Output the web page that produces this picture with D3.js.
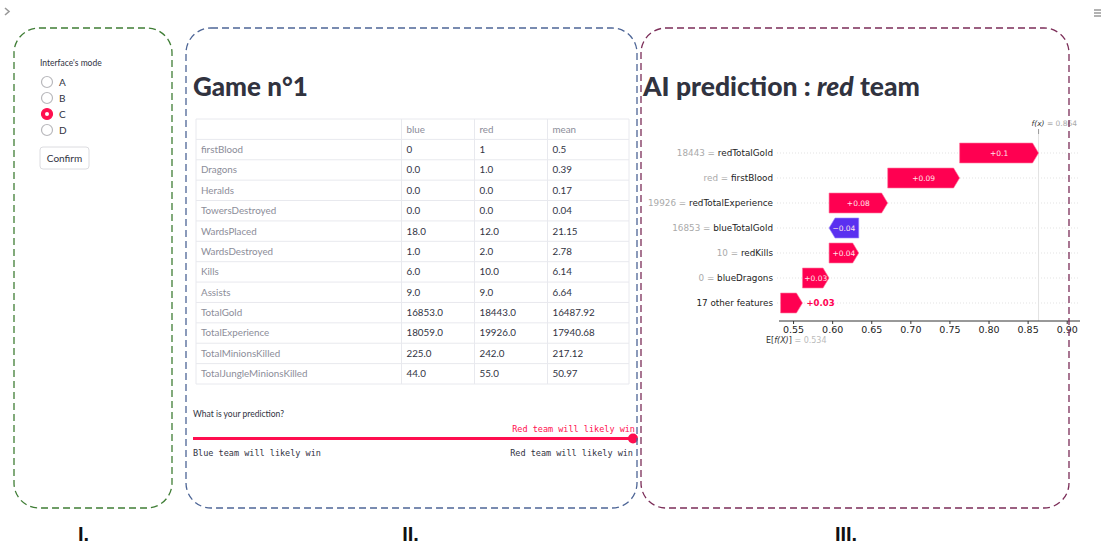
<!DOCTYPE html>
<html>
<head>
<meta charset="utf-8">
<script src="https://cdn.jsdelivr.net/npm/d3@7"></script>
<style>
  body { margin: 0; background: #fff; }
  svg { display: block; }
</style>
</head>
<body>
<div id="page"></div>
<script>
// ---- data ----
var modes = ["A", "B", "C", "D"];
var selectedMode = "C";

var tableColumns = ["", "blue", "red", "mean"];
var statNames = ["firstBlood", "Dragons", "Heralds", "TowersDestroyed", "WardsPlaced", "WardsDestroyed",
  "Kills", "Assists", "TotalGold", "TotalExperience", "TotalMinionsKilled", "TotalJungleMinionsKilled"];
var blueValues = ["0", "0.0", "0.0", "0.0", "18.0", "1.0", "6.0", "9.0", "16853.0", "18059.0", "225.0", "44.0"];
var redValues = ["1", "1.0", "0.0", "0.0", "12.0", "2.0", "10.0", "9.0", "18443.0", "19926.0", "242.0", "55.0"];
var meanValues = ["0.5", "0.39", "0.17", "0.04", "21.15", "2.78", "6.14", "6.64", "16487.92", "17940.68", "217.12", "50.97"];

var sliderValue = 1; // 0 = blue, 1 = red
var sliderLabels = ["Blue team will likely win", "Red team will likely win"];

var shapFeatureValues = ["18443", "red", "19926", "16853", "10", "0", ""];
var shapFeatureNames = ["redTotalGold", "firstBlood", "redTotalExperience", "blueTotalGold", "redKills", "blueDragons", "17 other features"];
var shapValues = [0.101, 0.092, 0.075, -0.038, 0.038, 0.034, 0.028];
var shapLabels = ["+0.1", "+0.09", "+0.08", "\u22120.04", "+0.04", "+0.03", "+0.03"];
var baseValue = 0.534;
var xTicks = [0.55, 0.60, 0.65, 0.70, 0.75, 0.80, 0.85, 0.90];

var panelLabels = ["I.", "II.", "III."];

// ---- setup ----
var W = 1117, H = 546;
var uiFont = "Lato, 'Noto Sans', sans-serif";
var monoFont = "'DejaVu Sans Mono', 'Liberation Mono', monospace";
var plotFont = "'DejaVu Sans', sans-serif";
var textColor = "#31333F";
var accent = "#ff0f4f";
var shapRed = "#ff0051";
var shapBlue = "#5a30f0";

var svg = d3.select("#page").append("svg")
  .attr("width", W)
  .attr("height", H);

// dashed panel boxes
var boxes = [
  {x: 14, y: 28, w: 158, h: 480, c: "#3f7d35"},
  {x: 186, y: 28, w: 451, h: 480, c: "#4d6596"},
  {x: 641, y: 28, w: 428, h: 480, c: "#7b2d58"}
];

// top corner icons
svg.append("path")
  .attr("d", "M5,8 L9,11.5 L5,15")
  .attr("fill", "none")
  .attr("stroke", "#999")
  .attr("stroke-width", 1.6);
svg.selectAll(".burger")
  .data([10, 13, 16])
  .enter().append("line")
  .attr("x1", 1094).attr("x2", 1101)
  .attr("y1", function(d) { return d; })
  .attr("y2", function(d) { return d; })
  .attr("stroke", "#888")
  .attr("stroke-width", 1.3);

// ===== Panel I : interface mode =====
svg.append("text")
  .attr("x", 40).attr("y", 66)
  .style("font-family", uiFont).style("font-size", "8.5px")
  .style("fill", textColor)
  .text("Interface's mode");

var radioY = d3.scalePoint().domain(modes).range([82, 130]);

var radio = svg.selectAll(".radio")
  .data(modes)
  .enter().append("g")
  .attr("class", "radio")
  .attr("transform", function(d) { return "translate(47," + radioY(d) + ")"; });

radio.append("circle")
  .attr("r", 5.5)
  .attr("fill", function(d) { return d == selectedMode ? accent : "#fff"; })
  .attr("stroke", function(d) { return d == selectedMode ? accent : "#b8b8bc"; })
  .attr("stroke-width", 1.2);
radio.filter(function(d) { return d == selectedMode; })
  .append("circle")
  .attr("r", 2)
  .attr("fill", "#fff");
radio.append("text")
  .attr("x", 12).attr("dy", "0.35em")
  .style("font-family", uiFont).style("font-size", "10px")
  .style("fill", textColor)
  .text(function(d) { return d; });

svg.append("rect")
  .attr("x", 40).attr("y", 147)
  .attr("width", 49).attr("height", 22)
  .attr("rx", 3)
  .attr("fill", "#fff")
  .attr("stroke", "#dcdce0");
svg.append("text")
  .attr("x", 64.5).attr("y", 161.5)
  .attr("text-anchor", "middle")
  .style("font-family", uiFont).style("font-size", "10px")
  .style("fill", textColor)
  .text("Confirm");

// ===== Panel II : game table =====
svg.append("text")
  .attr("x", 193).attr("y", 96)
  .style("font-family", uiFont).style("font-size", "26px").style("font-weight", 900)
  .style("fill", textColor)
  .text("Game n\u00b01");

var colEdges = [196, 401.5, 474.5, 547.5, 629];
var rowY = d3.scaleBand()
  .domain(d3.range(statNames.length + 1))
  .range([119, 384]);

var tableRows = [tableColumns].concat(statNames.map(function(name, i) {
  return [name, blueValues[i], redValues[i], meanValues[i]];
}));

var table = svg.append("g");

table.selectAll(".hline")
  .data(d3.range(tableRows.length + 1))
  .enter().append("line")
  .attr("x1", colEdges[0]).attr("x2", colEdges[4])
  .attr("y1", function(i) { return 119 + i * rowY.bandwidth(); })
  .attr("y2", function(i) { return 119 + i * rowY.bandwidth(); })
  .attr("stroke", "#e8e9ee");
table.selectAll(".vline")
  .data(colEdges)
  .enter().append("line")
  .attr("x1", function(d) { return d; })
  .attr("x2", function(d) { return d; })
  .attr("y1", 119).attr("y2", 384)
  .attr("stroke", "#e8e9ee");

var trow = table.selectAll(".trow")
  .data(tableRows)
  .enter().append("g")
  .attr("transform", function(d, i) { return "translate(0," + (rowY(i) + rowY.bandwidth() / 2) + ")"; });

trow.selectAll("text")
  .data(function(d, i) { return d.map(function(v, j) { return {v: v, j: j, header: i == 0}; }); })
  .enter().append("text")
  .attr("x", function(d) { return colEdges[d.j] + 5; })
  .attr("dy", "0.35em")
  .style("font-family", uiFont).style("font-size", "9.8px")
  .style("fill", function(d) { return (d.header || d.j == 0) ? "#8c8d99" : textColor; })
  .text(function(d) { return d.v; });

// slider
svg.append("text")
  .attr("x", 193).attr("y", 417)
  .style("font-family", uiFont).style("font-size", "8.5px")
  .style("fill", textColor)
  .text("What is your prediction?");

var sliderX = d3.scaleLinear().domain([0, 1]).range([193, 633]);

svg.append("line")
  .attr("x1", sliderX(0)).attr("x2", sliderX(1))
  .attr("y1", 438.5).attr("y2", 438.5)
  .attr("stroke", "#e3e4e8").attr("stroke-width", 3);
svg.append("line")
  .attr("x1", sliderX(0)).attr("x2", sliderX(sliderValue))
  .attr("y1", 438.5).attr("y2", 438.5)
  .attr("stroke", accent).attr("stroke-width", 3);
svg.append("circle")
  .attr("cx", sliderX(sliderValue)).attr("cy", 438.5)
  .attr("r", 5)
  .attr("fill", accent);
svg.append("text")
  .attr("x", sliderX(sliderValue) + 2).attr("y", 432)
  .attr("text-anchor", "end")
  .style("font-family", monoFont).style("font-size", "8.5px")
  .style("fill", accent)
  .text(sliderLabels[Math.round(sliderValue)]);
svg.append("text")
  .attr("x", sliderX(0)).attr("y", 456)
  .style("font-family", monoFont).style("font-size", "8.5px")
  .style("fill", textColor)
  .text(sliderLabels[0]);
svg.append("text")
  .attr("x", sliderX(1)).attr("y", 456)
  .attr("text-anchor", "end")
  .style("font-family", monoFont).style("font-size", "8.5px")
  .style("fill", textColor)
  .text(sliderLabels[1]);

// ===== Panel III : shap waterfall =====
var title3 = svg.append("text")
  .attr("x", 643).attr("y", 96)
  .style("font-family", uiFont).style("font-size", "26.5px").style("font-weight", 900)
  .style("fill", textColor);
title3.append("tspan").text("AI prediction : ");
title3.append("tspan").style("font-style", "italic").text("red");
title3.append("tspan").text(" team");

svg.append("defs").append("clipPath")
  .attr("id", "chartClip")
  .append("rect")
  .attr("x", 645).attr("y", 110).attr("width", 435).attr("height", 240);

var chart = svg.append("g").attr("clip-path", "url(#chartClip)");

var x = d3.scaleLinear().domain([0.532, 0.917]).range([779, 1080]);
var y = d3.scalePoint().domain(d3.range(shapValues.length)).range([153, 303]);
var barH = 20;
var axisY = 321;

// cumulative from the bottom row upward
var bars = [];
var cum = baseValue;
for (var i = shapValues.length - 1; i >= 0; i--) {
  bars[i] = {i: i, start: cum, end: cum + shapValues[i], v: shapValues[i], label: shapLabels[i]};
  cum += shapValues[i];
}
var fx = cum;

// dotted row guides
chart.selectAll(".guide")
  .data(bars)
  .enter().append("line")
  .attr("x1", 777).attr("x2", 1080)
  .attr("y1", function(d) { return y(d.i); })
  .attr("y2", function(d) { return y(d.i); })
  .attr("stroke", "#d0d0d0")
  .attr("stroke-width", 0.6)
  .attr("stroke-dasharray", "1,2");

// f(x) line and label
chart.append("line")
  .attr("x1", x(fx)).attr("x2", x(fx))
  .attr("y1", 129).attr("y2", axisY)
  .attr("stroke", "#e2e2e2");
chart.append("line")
  .attr("x1", x(fx)).attr("x2", x(fx))
  .attr("y1", 129).attr("y2", 134)
  .attr("stroke", "#999");
var fxText = chart.append("text")
  .attr("x", x(fx) - 7).attr("y", 126)
  .style("font-family", plotFont).style("font-size", "7.5px");
fxText.append("tspan").style("font-style", "italic").style("fill", "#333").text("f(x)");
fxText.append("tspan").style("fill", "#aaa").text(" = " + d3.format(".3f")(fx));

// bars
function barPath(d) {
  var yc = y(d.i), top = yc - barH / 2, bot = yc + barH / 2;
  var x0 = x(d.start), x1 = x(d.end);
  var tip = Math.min(6, Math.abs(x1 - x0) * 0.35);
  var dir = d.v >= 0 ? 1 : -1;
  return "M" + x0 + "," + top + "L" + (x1 - dir * tip) + "," + top + "L" + x1 + "," + yc +
    "L" + (x1 - dir * tip) + "," + bot + "L" + x0 + "," + bot + "Z";
}

chart.selectAll(".bar")
  .data(bars)
  .enter().append("path")
  .attr("d", barPath)
  .attr("fill", function(d) { return d.v >= 0 ? shapRed : shapBlue; })
  .attr("stroke", function(d) { return d.v >= 0 ? "#ff7aa0" : "#9a86ff"; })
  .attr("stroke-width", 0.6);

function narrow(d) { return Math.abs(x(d.end) - x(d.start)) < 25; }

chart.selectAll(".barLabel")
  .data(bars)
  .enter().append("text")
  .attr("x", function(d) { return narrow(d) ? x(d.end) + 4 : (x(d.start) + x(d.end)) / 2; })
  .attr("y", function(d) { return y(d.i); })
  .attr("dy", "0.35em")
  .attr("text-anchor", function(d) { return narrow(d) ? "start" : "middle"; })
  .style("font-family", plotFont)
  .style("font-size", function(d) { return narrow(d) ? "8.5px" : "7.5px"; })
  .style("font-weight", function(d) { return narrow(d) ? "bold" : "normal"; })
  .style("fill", function(d) { return narrow(d) ? shapRed : "#ffe3ea"; })
  .text(function(d) { return d.label; });

// feature labels
var featLabel = svg.selectAll(".feat")
  .data(bars)
  .enter().append("text")
  .attr("x", 773)
  .attr("y", function(d) { return y(d.i); })
  .attr("dy", "0.35em")
  .attr("text-anchor", "end")
  .style("font-family", plotFont).style("font-size", "8.8px");
featLabel.filter(function(d) { return shapFeatureValues[d.i] !== ""; })
  .append("tspan").style("fill", "#aaa")
  .text(function(d) { return shapFeatureValues[d.i] + " = "; });
featLabel.append("tspan").style("fill", "#222")
  .text(function(d) { return shapFeatureNames[d.i]; });

// x axis
var axis = chart.append("g")
  .attr("transform", "translate(0," + axisY + ")")
  .call(d3.axisBottom(x).tickValues(xTicks).tickFormat(d3.format(".2f")).tickSize(3).tickPadding(2));
axis.select(".domain").attr("stroke", "#333").attr("d", "M" + x.range()[0] + ",0H" + x.range()[1]);
axis.selectAll(".tick line").attr("stroke", "#333");
axis.selectAll(".tick text")
  .style("font-family", plotFont).style("font-size", "9.5px").style("fill", "#222");

var eText = svg.append("text")
  .attr("x", 766).attr("y", 343)
  .style("font-family", plotFont).style("font-size", "8px");
eText.append("tspan").style("fill", "#333").text("E[");
eText.append("tspan").style("fill", "#333").style("font-style", "italic").text("f(X)");
eText.append("tspan").style("fill", "#333").text("]");
eText.append("tspan").style("fill", "#bbb").text(" = " + d3.format(".3f")(baseValue));

// boxes on top
svg.selectAll(".box")
  .data(boxes)
  .enter().append("rect")
  .attr("x", function(d) { return d.x; })
  .attr("y", function(d) { return d.y; })
  .attr("width", function(d) { return d.w; })
  .attr("height", function(d) { return d.h; })
  .attr("rx", 25)
  .attr("fill", "none")
  .attr("stroke", function(d) { return d.c; })
  .attr("stroke-width", 1.3)
  .attr("stroke-dasharray", "7,4");

svg.selectAll(".panelLabel")
  .data(panelLabels)
  .enter().append("text")
  .attr("x", function(d, i) { return [83.5, 410.5, 846][i]; })
  .attr("y", 541)
  .attr("text-anchor", "middle")
  .style("font-family", "'Liberation Sans Narrow', 'Liberation Sans', sans-serif")
  .style("font-stretch", "condensed")
  .style("font-weight", 700)
  .style("font-size", "20px")
  .style("fill", "#111")
  .text(function(d) { return d; });
</script>
</body>
</html>
